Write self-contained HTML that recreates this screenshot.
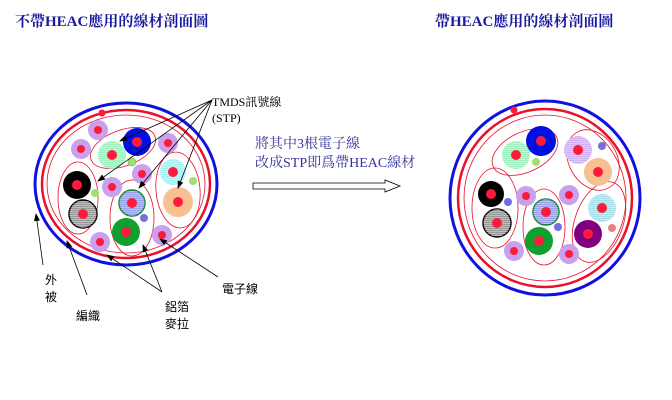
<!DOCTYPE html>
<html><head><meta charset="utf-8"><style>body{margin:0;background:#fff}svg{display:block}</style></head><body>
<svg width="672" height="400" viewBox="0 0 672 400" xmlns="http://www.w3.org/2000/svg" font-family="Liberation Serif, Noto Serif CJK SC, serif">
<defs>
<pattern id="h" width="2" height="2" patternUnits="userSpaceOnUse"><rect y="1" width="2" height="1" fill="#fff" opacity="0.35"/></pattern>
<marker id="a" markerWidth="8" markerHeight="8" refX="7" refY="4" orient="auto" markerUnits="userSpaceOnUse"><path d="M0,1 L8,4 L0,7 Z" fill="#000"/></marker>
</defs>
<text x="15" y="26" font-size="15" font-weight="bold" fill="#1a1aa0">不帶HEAC應用的線材剖面圖</text>
<text x="435" y="26" font-size="15" font-weight="bold" fill="#1a1aa0">帶HEAC應用的線材剖面圖</text>

<!-- left -->
<g fill="none">
<ellipse cx="126" cy="184" rx="91" ry="81" stroke="#1010e0" stroke-width="3"/>
<ellipse cx="126" cy="184" rx="84" ry="74" stroke="#e8102a" stroke-width="2.5"/>
<ellipse cx="126" cy="184" rx="79" ry="69" stroke="#e8102a" stroke-width="0.8"/>
<ellipse cx="123" cy="148" rx="34" ry="18" stroke="#e8102a" stroke-width="0.8" transform="rotate(-20 123 148)"/>
<ellipse cx="78" cy="198" rx="20" ry="36" stroke="#e8102a" stroke-width="0.8"/>
<ellipse cx="132" cy="218" rx="22" ry="38" stroke="#e8102a" stroke-width="0.8"/>
<ellipse cx="178" cy="190" rx="22" ry="38" stroke="#e8102a" stroke-width="0.8" transform="rotate(-5 178 190)"/>
</g>
<circle cx="102" cy="113" r="3.5" fill="#ff1a3a"/>
<g fill="#c8a0ec"><circle cx="98" cy="130" r="10"/><circle cx="81" cy="149" r="10"/><circle cx="168" cy="143" r="10"/><circle cx="142" cy="174" r="10"/><circle cx="112" cy="187" r="10"/><circle cx="100" cy="242" r="10"/><circle cx="162" cy="235" r="10"/></g>
<circle cx="137" cy="142" r="14" fill="#0010e0"/>
<circle cx="112" cy="155" r="14" fill="#a0f0c0"/><circle cx="112" cy="155" r="14" fill="url(#h)"/>
<circle cx="132" cy="162" r="4" fill="#a0e070" stroke="#60a040" stroke-width="0.5"/>
<circle cx="77" cy="185" r="14" fill="#000"/>
<circle cx="95" cy="193" r="4" fill="#a0e070"/>
<circle cx="83" cy="214" r="14" fill="#999" stroke="#000" stroke-width="1.5"/><circle cx="83" cy="214" r="14" fill="url(#h)"/>
<circle cx="132" cy="203" r="13" fill="#9aa0e8" stroke="#108030" stroke-width="1.5"/><circle cx="132" cy="203" r="13" fill="url(#h)"/>
<circle cx="144" cy="218" r="4" fill="#7070e0"/>
<circle cx="126" cy="232" r="14" fill="#10a030"/>
<circle cx="173" cy="172" r="13" fill="#a8f0f0"/><circle cx="173" cy="172" r="13" fill="url(#h)"/>
<circle cx="193" cy="181" r="4" fill="#a0e070"/>
<circle cx="178" cy="202" r="15" fill="#f8c090"/>
<g fill="#ff1a3a"><circle cx="98" cy="130" r="4"/><circle cx="81" cy="149" r="4"/><circle cx="168" cy="143" r="4"/><circle cx="142" cy="174" r="4"/><circle cx="112" cy="187" r="4"/><circle cx="100" cy="242" r="4"/><circle cx="162" cy="235" r="4"/><circle cx="137" cy="142" r="5"/><circle cx="112" cy="155" r="5"/><circle cx="77" cy="185" r="5"/><circle cx="83" cy="214" r="5"/><circle cx="132" cy="203" r="5"/><circle cx="126" cy="232" r="5"/><circle cx="173" cy="172" r="5"/><circle cx="178" cy="202" r="5"/></g>
<g stroke="#000" stroke-width="0.8" marker-end="url(#a)">
<line x1="212" y1="100" x2="120" y2="141"/><line x1="212" y1="100" x2="98" y2="181"/><line x1="212" y1="100" x2="139" y2="188"/><line x1="212" y1="100" x2="178" y2="188"/>
<line x1="43" y1="265" x2="36" y2="214"/><line x1="87" y1="295" x2="67" y2="241"/>
<line x1="162" y1="292" x2="107" y2="255"/><line x1="162" y1="292" x2="143" y2="245"/>
<line x1="218" y1="277" x2="160" y2="239"/>
</g>
<g font-family="Liberation Sans, Noto Sans CJK TC, sans-serif" font-size="12" fill="#000">
<text x="45" y="284">外</text><text x="45" y="301">被</text>
<text x="76" y="320">編織</text>
<text x="165" y="311">鋁箔</text><text x="165" y="328">麥拉</text>
<text x="222" y="293">電子線</text>
</g>
<text x="212" y="106" font-size="12">TMDS訊號線</text>
<text x="212" y="122" font-size="12">(STP)</text>
<g font-size="14" fill="#33339a"><text x="255" y="148">將其中3根電子線</text><text x="255" y="167">改成STP即爲帶HEAC線材</text></g>
<path d="M253,183 L385,183 L385,180 L400,186 L385,192 L385,189 L253,189 Z" fill="#fff" stroke="#000" stroke-width="0.8"/>

<!-- right -->
<g fill="none">
<ellipse cx="545" cy="198" rx="95" ry="97" stroke="#1010e0" stroke-width="3"/>
<ellipse cx="545" cy="198" rx="87" ry="89" stroke="#e8102a" stroke-width="2.5"/>
<ellipse cx="545" cy="198" rx="81" ry="83" stroke="#e8102a" stroke-width="0.8"/>
<ellipse cx="525" cy="152" rx="35" ry="20" stroke="#e8102a" stroke-width="0.8" transform="rotate(-25 525 152)"/>
<ellipse cx="593" cy="160" rx="24" ry="32" stroke="#e8102a" stroke-width="0.8" transform="rotate(-30 593 160)"/>
<ellipse cx="495" cy="208" rx="23" ry="40" stroke="#e8102a" stroke-width="0.8"/>
<ellipse cx="544" cy="227" rx="21" ry="38" stroke="#e8102a" stroke-width="0.8"/>
<ellipse cx="599" cy="222" rx="24" ry="42" stroke="#e8102a" stroke-width="0.8" transform="rotate(20 599 222)"/>
</g>
<circle cx="514" cy="110" r="3.5" fill="#ff1a3a"/>
<g fill="#c8a0ec"><circle cx="526" cy="196" r="10"/><circle cx="569" cy="195" r="10"/><circle cx="514" cy="251" r="10"/><circle cx="569" cy="254" r="10"/></g>
<circle cx="541" cy="141" r="15" fill="#0010e0"/>
<circle cx="516" cy="155" r="14" fill="#a0f0c0"/><circle cx="516" cy="155" r="14" fill="url(#h)"/>
<circle cx="536" cy="162" r="4" fill="#a0e070"/>
<circle cx="578" cy="150" r="14" fill="#d0b0f0"/><circle cx="578" cy="150" r="14" fill="url(#h)"/>
<circle cx="602" cy="146" r="4" fill="#7070e0"/>
<circle cx="598" cy="172" r="14" fill="#f8c090"/>
<circle cx="491" cy="194" r="13" fill="#000"/>
<circle cx="508" cy="202" r="4" fill="#7070e0"/>
<circle cx="497" cy="223" r="14" fill="#999" stroke="#000" stroke-width="1.5"/><circle cx="497" cy="223" r="14" fill="url(#h)"/>
<circle cx="546" cy="212" r="13" fill="#9aa0e8" stroke="#108030" stroke-width="1.5"/><circle cx="546" cy="212" r="13" fill="url(#h)"/>
<circle cx="558" cy="227" r="4" fill="#7070e0"/>
<circle cx="539" cy="241" r="14" fill="#10a030"/>
<circle cx="602" cy="208" r="14" fill="#a8e0e8"/><circle cx="602" cy="208" r="14" fill="url(#h)"/>
<circle cx="588" cy="234" r="14" fill="#800080"/>
<circle cx="612" cy="228" r="4" fill="#f08080"/>
<g fill="#ff1a3a"><circle cx="526" cy="196" r="4"/><circle cx="569" cy="195" r="4"/><circle cx="514" cy="251" r="4"/><circle cx="569" cy="254" r="4"/><circle cx="541" cy="141" r="5"/><circle cx="516" cy="155" r="5"/><circle cx="578" cy="150" r="5"/><circle cx="598" cy="172" r="5"/><circle cx="491" cy="194" r="5"/><circle cx="497" cy="223" r="5"/><circle cx="546" cy="212" r="5"/><circle cx="539" cy="241" r="5"/><circle cx="602" cy="208" r="5"/><circle cx="588" cy="234" r="5"/></g>
</svg>
</body></html>
